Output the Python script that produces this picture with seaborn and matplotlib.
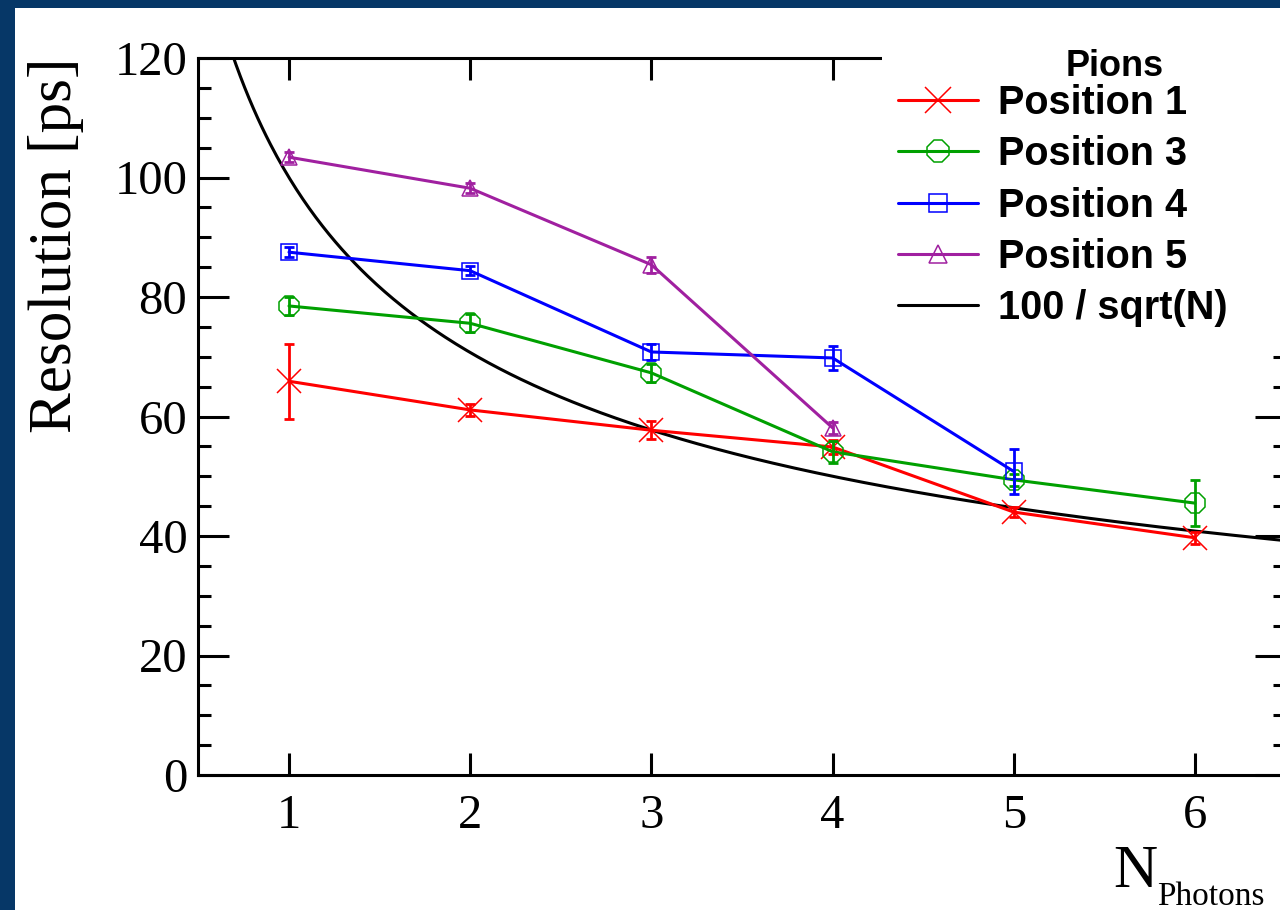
import numpy as np
import pandas as pd
import seaborn as sns
import matplotlib.pyplot as plt
from matplotlib.patches import Rectangle
from matplotlib.lines import Line2D
from matplotlib.ticker import MultipleLocator, FixedLocator

# Timing resolution versus number of detected photons (pions)
n_photons = [1, 2, 3, 4, 5, 6]

pos1 = [65.9, 61.1, 57.7, 54.9, 44.0, 39.7]
pos1_err = [6.3, 1.0, 1.5, 1.2, 0.8, 1.0]

pos3 = [78.5, 75.6, 67.3, 54.1, 49.4, 45.5]
pos3_err = [1.5, 1.5, 1.5, 1.8, 1.0, 3.9]

pos4 = [87.5, 84.4, 70.8, 69.8, 50.8]
pos4_err = [0.8, 0.8, 1.3, 2.0, 3.8]

pos5 = [103.4, 98.2, 85.4, 58.1]
pos5_err = [0.8, 0.8, 1.3, 1.0]

series_labels = ["Position 1", "Position 3", "Position 4", "Position 5"]
series_colors = ["#ff0000", "#00a000", "#0000ff", "#a020a0"]
series_markers = ["x", "8", "s", "^"]
series_msize = [17, 16, 11.5, 11]
legend_msize = [19, 16.5, 12.5, 13]
reference_label = "100 / sqrt(N)"
legend_title = "Pions"

sns.set_theme(style="ticks")
plt.rcParams["font.family"] = ["Liberation Serif", "DejaVu Serif"]
plt.rcParams["text.color"] = "black"

W, H = 1280, 910
fig = plt.figure(figsize=(W / 100, H / 100), dpi=100)
fig.patch.set_facecolor("#063767")
fig.add_artist(Rectangle((15 / W, 0), 1, 1 - 8 / H, transform=fig.transFigure,
                         facecolor="white", edgecolor="none", zorder=-1))

ax = fig.add_axes([198.4 / W, 135 / H, 1087.2 / W, 717 / H])
ax.set_facecolor("none")

# reference curve 100/sqrt(N)
nn = np.linspace(0.66, 6.6, 500)
sns.lineplot(x=nn, y=100 / np.sqrt(nn), ax=ax, color="black", linewidth=2.2,
             errorbar=None, sort=False)

data = [(pos1, pos1_err), (pos3, pos3_err), (pos4, pos4_err), (pos5, pos5_err)]
handles = []
for (vals, errs), col, mk, ms, lms in zip(data, series_colors, series_markers,
                                          series_msize, legend_msize):
    xs = n_photons[:len(vals)]
    df = pd.DataFrame({"N": xs, "res": vals})
    sns.lineplot(data=df, x="N", y="res", ax=ax, color=col, linewidth=2.2,
                 marker=mk, markersize=ms, markerfacecolor="none",
                 markeredgecolor=col, markeredgewidth=1.1, errorbar=None)
    ax.errorbar(xs, vals, yerr=errs, fmt="none", ecolor=col, elinewidth=2.0,
                capsize=3.5, capthick=2.0, zorder=3)
    handles.append(Line2D([], [], color=col, linewidth=2.2, marker=mk,
                          markersize=lms, markerfacecolor="none",
                          markeredgecolor=col, markeredgewidth=1.1))
handles.append(Line2D([], [], color="black", linewidth=2.2))

ax.set_xlim(0.5, 6.5)
ax.set_ylim(0, 120)
ax.set_xlabel("")
ax.set_ylabel("")
ax.xaxis.set_major_locator(FixedLocator(n_photons))
ax.yaxis.set_major_locator(MultipleLocator(20))
ax.yaxis.set_minor_locator(MultipleLocator(5))
for s in ax.spines.values():
    s.set_linewidth(2.2)
    s.set_color("black")
ax.tick_params(axis="both", which="both", direction="in", width=2.2,
               colors="black", top=True, right=True)
ax.tick_params(axis="x", which="major", length=16, pad=14, labelsize=35)
ax.tick_params(axis="y", which="major", length=22, pad=8, labelsize=35)
ax.tick_params(axis="y", which="minor", length=9.5)

fig.text(56 / W, 1 - 245 / H, "Resolution [ps]", rotation=90, ha="center",
         va="center", fontsize=44, color="black")
fig.text(1113 / W, 1 - 887 / H, "N", ha="left", va="baseline", fontsize=44,
         color="black")
fig.text(1157 / W, 1 - 905 / H, "Photons", ha="left", va="baseline",
         fontsize=24, color="black")

# legend block over the upper right corner of the frame
sans = ["Liberation Sans", "DejaVu Sans"]
fig.add_artist(Rectangle((882 / W, 1 - 342 / H), 1, 332 / H,
                         transform=fig.transFigure, facecolor="white",
                         edgecolor="none", zorder=2))
fig.text(1115 / W, 1 - 67 / H, legend_title, ha="center", va="center",
         fontsize=26, fontweight="bold", family=sans, color="black", zorder=4)
fig.legend(handles, series_labels + [reference_label], loc="upper left",
           bbox_to_anchor=(898 / W, 1 - 84 / H), frameon=False,
           prop={"family": sans, "weight": "bold", "size": 28.5},
           labelcolor="black",
           handlelength=2.02, handletextpad=0.5, labelspacing=0.335,
           borderpad=0, borderaxespad=0)

fig.savefig("out.png", dpi=100, facecolor=fig.get_facecolor())
